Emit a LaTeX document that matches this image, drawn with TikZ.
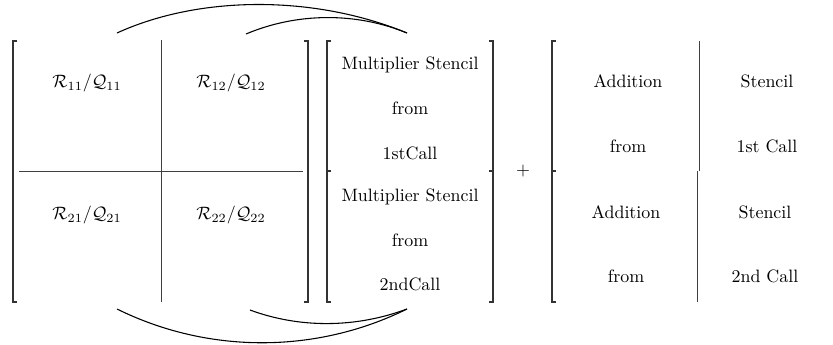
\documentclass[tikz,border=0pt]{standalone}
\begin{document}
\begin{tikzpicture}[x=0.558pt,y=-0.558pt,
  brk/.style={line width=0.7pt,black!80},
  divl/.style={line width=0.45pt,black!75},
  arc/.style={line width=0.6pt,black},
  lbl/.style={inner sep=1pt,font=\normalsize}]
\useasboundingbox (0,0) rectangle (833,345);
% ---- matrix 1
\draw[brk] (17,41) -- (13,41) -- (13,302) -- (17,302);
\draw[brk] (304,41) -- (308,41) -- (308,302) -- (304,302);
\draw[divl] (161,40) -- (161,302);
\draw[divl] (19,171) -- (303,171);
\node[lbl] (r11) at (87,83) {$\mathcal{R}_{11}/\mathcal{Q}_{11}$};
\node[lbl] (r12) at (231,83) {$\mathcal{R}_{12}/\mathcal{Q}_{12}$};
\node[lbl] (r21) at (87,215) {$\mathcal{R}_{21}/\mathcal{Q}_{21}$};
\node[lbl] (r22) at (231,215) {$\mathcal{R}_{22}/\mathcal{Q}_{22}$};
% ---- matrix 2
\draw[brk] (331,41) -- (327,41) -- (327,171) -- (331,171);
\draw[brk] (331,171) -- (327,171) -- (327,302) -- (331,302);
\draw[brk] (489,41) -- (493,41) -- (493,171) -- (489,171);
\draw[brk] (489,171) -- (493,171) -- (493,302) -- (489,302);
\node[lbl] (m1) at (410,65) {Multiplier Stencil};
\node[lbl] (m2) at (410,108) {from};
\node[lbl] (m3) at (410,153) {1stCall};
\node[lbl] (m4) at (410,197) {Multiplier Stencil};
\node[lbl] (m5) at (410,240) {from};
\node[lbl] (m6) at (410,284) {2ndCall};
% ---- plus
\node[lbl] (plus) at (523,171) {$+$};
% ---- matrix 3
\draw[brk] (556,41) -- (552,41) -- (552,171) -- (556,171);
\draw[brk] (556,171) -- (552,171) -- (552,302) -- (556,302);
\draw[divl] (699,41) -- (699,171);
\draw[divl] (697,171) -- (697,302);
\node[lbl] (a1) at (628,81) {Addition};
\node[lbl] (s1) at (767,81) {Stencil};
\node[lbl] (f1) at (628,146) {from};
\node[lbl] (c1) at (767,146) {1st Call};
\node[lbl] (a2) at (626,212) {Addition};
\node[lbl] (s2) at (765,212) {Stencil};
\node[lbl] (f2) at (626,276) {from};
\node[lbl] (c2) at (765,276) {2nd Call};
% ---- arcs
\coordinate (t1s) at (117,33);
\coordinate (t2s) at (246,34);
\coordinate (te) at (407,33);
\coordinate (b1s) at (117,309);
\coordinate (b2s) at (250,310);
\coordinate (be) at (407,309);
\draw[arc] (t1s) .. controls (200,-5) and (315,-5) .. (te);
\draw[arc] (t2s) .. controls (297,12.5) and (356,12) .. (te);
\draw[arc] (b1s) .. controls (208,354) and (316,354) .. (be);
\draw[arc] (b2s) .. controls (300,328.5) and (356,328) .. (be);
\end{tikzpicture}
\end{document}
